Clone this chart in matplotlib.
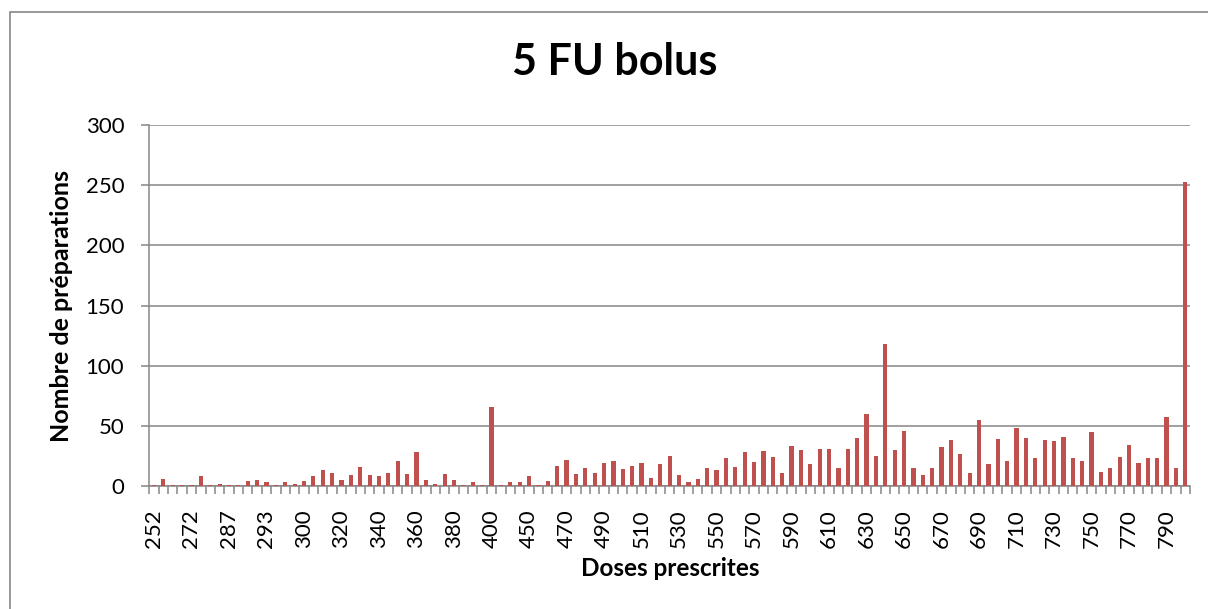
import matplotlib
matplotlib.use("Agg")
import matplotlib.pyplot as plt
from matplotlib.patches import Rectangle
from matplotlib.ticker import MultipleLocator

plt.rcParams['font.family'] = ['Lato', 'DejaVu Sans']

doses = [252, 255, 260, 265, 272, 275, 280, 285, 287, 288, 290, 292,
         293, 295, 297, 298, 300, 305, 310, 315, 320, 325, 330, 335,
         340, 345, 350, 355, 360, 365, 370, 375, 380, 385, 390, 395,
         400, 410, 420, 440, 450, 455, 460, 465, 470, 475, 480, 485,
         490, 495, 500, 505, 510, 515, 520, 525, 530, 535, 540, 545,
         550, 555, 560, 565, 570, 575, 580, 585, 590, 595, 600, 605,
         610, 615, 620, 625, 630, 635, 640, 645, 650, 655, 660, 665,
         670, 675, 680, 685, 690, 695, 700, 705, 710, 715, 720, 725,
         730, 735, 740, 745, 750, 755, 760, 765, 770, 775, 780, 785,
         790, 795, 800]

counts = [1, 6, 1, 1, 1, 8, 1, 2, 1, 1, 4, 5,
          3, 1, 3, 2, 4, 8, 13, 11, 5, 9, 16, 9,
          8, 11, 21, 10, 28, 5, 2, 10, 5, 1, 3, 1,
          66, 1, 3, 3, 8, 1, 4, 17, 22, 10, 15, 11,
          19, 21, 14, 17, 19, 7, 18, 25, 9, 3, 6, 15,
          13, 23, 16, 28, 20, 29, 24, 11, 33, 30, 18, 31,
          31, 15, 31, 40, 60, 25, 118, 30, 46, 15, 9, 15,
          32, 38, 27, 11, 55, 18, 39, 21, 48, 40, 23, 38,
          37, 41, 23, 21, 45, 12, 15, 24, 34, 19, 23, 23,
          57, 15, 253]

title = "5 FU bolus"
xlabel = "Doses prescrites"
ylabel = "Nombre de préparations"

W, H = 1208, 609
fig = plt.figure(figsize=(W / 100, H / 100), dpi=100)

grey = "#868686"
ax_l, ax_r, ax_t, ax_b = 149.3, 1190.0, 125.0, 486.0
ax = fig.add_axes([ax_l / W, 1 - ax_b / H, (ax_r - ax_l) / W, (ax_b - ax_t) / H])

x = list(range(len(counts)))
ax.bar(x, counts, width=0.45, color="#C0504D", zorder=3)

ax.set_xlim(-0.5, len(counts) - 0.5)
ax.set_ylim(0, 300)
ax.yaxis.set_major_locator(MultipleLocator(50))
ax.grid(axis="y", color=grey, linewidth=1.1, zorder=0)
ax.set_axisbelow(True)

for s in ("top", "right"):
    ax.spines[s].set_visible(False)
for s in ("left", "bottom"):
    ax.spines[s].set_color(grey)
    ax.spines[s].set_linewidth(1.1)

lab_idx = x[::4]
ax.set_xticks(lab_idx)
ax.set_xticklabels([str(doses[i]) for i in lab_idx], rotation=90, fontsize=16)
ax.set_xticks([i - 0.5 for i in range(len(counts) + 1)], minor=True)
ax.tick_params(axis="x", which="major", length=0, pad=17)
ax.tick_params(axis="x", which="minor", length=6, width=1.1, color=grey)
ax.tick_params(axis="y", which="major", length=6, width=1.1, color=grey, pad=12, labelsize=16)

ax.set_xlabel(xlabel, fontsize=17.5, fontweight="bold", va="center")
ax.xaxis.set_label_coords((670 - ax_l) / (ax_r - ax_l), -(569 - ax_b) / (ax_b - ax_t))
ax.set_ylabel(ylabel, fontsize=18, fontweight="bold", va="center")
ax.yaxis.set_label_coords(-(ax_l - 62) / (ax_r - ax_l), 0.5)

fig.text(615 / W, 1 - 62 / H, title, fontsize=31, fontweight="bold",
         ha="center", va="center")

fig.patches.append(Rectangle((10 / W, -0.1), 1.2, 1 - 12 / H + 0.1,
                             transform=fig.transFigure, fill=False,
                             edgecolor=grey, linewidth=1.2))

fig.savefig("out.png", dpi=100)
